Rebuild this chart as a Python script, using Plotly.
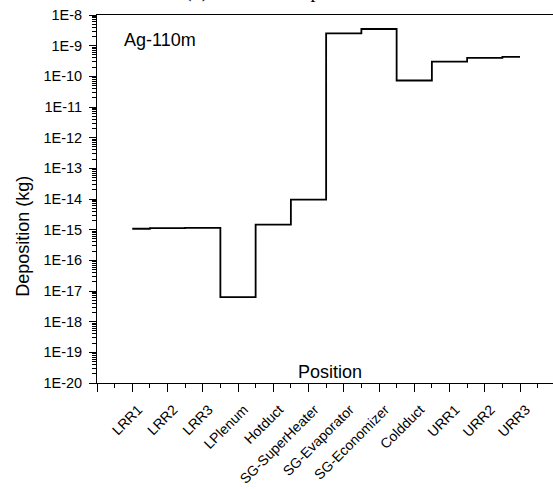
import plotly.graph_objects as go

categories = ["LRR1", "LRR2", "LRR3", "LPlenum", "Hotduct", "SG-SuperHeater",
              "SG-Evaporator", "SG-Economizer", "Coldduct", "URR1", "URR2", "URR3"]
deposition = [1.07e-15, 1.12e-15, 1.15e-15, 6.3e-18, 1.45e-15, 9.6e-15,
              2.5e-9, 3.5e-9, 7.3e-11, 3.0e-10, 4.0e-10, 4.3e-10]
y_tick_vals = [10.0 ** e for e in range(-20, -7)]
y_tick_text = ["1E%d" % e for e in range(-20, -7)]
y_minor_vals = [k * 10.0 ** e for e in range(-20, -8) for k in range(2, 10)]

xpos = list(range(1, len(categories) + 1))

W, H = 553, 489
L, T, B = 97, 15, 105.5
plot_w = W - L
unit = 35.25
x_end = plot_w / unit

fig = go.Figure()
fig.add_trace(go.Scatter(
    x=xpos, y=deposition, mode="lines", line_shape="hvh",
    line=dict(color="black", width=1.8), showlegend=False,
))

font = "Liberation Sans, Arial, sans-serif"
fig.update_layout(
    width=W, height=H,
    margin=dict(l=L, r=0, t=T, b=B, pad=0, autoexpand=False),
    paper_bgcolor="white", plot_bgcolor="white",
    font=dict(family=font, size=14, color="black"),
    xaxis=dict(
        range=[0, x_end], tickmode="array", automargin=False,
        tickvals=list(range(0, len(categories) + 1)),
        ticktext=[""] + categories,
        tickangle=-45, ticks="outside", ticklen=8, tickwidth=1, tickcolor="black",
        ticklabelshift=6, ticklabelstandoff=4,
        showline=True, linecolor="black", linewidth=1, mirror=True,
        showgrid=False, zeroline=False,
        tickfont=dict(size=14),
        minor=dict(tickmode="array", tickvals=[i + 0.5 for i in range(0, 13)],
                   ticks="outside", ticklen=4, tickcolor="black", showgrid=False),
    ),
    yaxis=dict(
        type="log", range=[-20, -8], tickmode="array", automargin=False,
        tickvals=y_tick_vals, ticktext=y_tick_text,
        ticks="outside", ticklen=7, tickwidth=1, tickcolor="black",
        ticklabelstandoff=4,
        showline=True, linecolor="black", linewidth=1,
        showgrid=False, zeroline=False,
        tickfont=dict(size=14.5),
        minor=dict(tickmode="array", tickvals=y_minor_vals,
                   ticks="outside", ticklen=4, tickcolor="black", showgrid=False),
    ),
)

def px_x(p):
    return (p - L) / plot_w

def px_y(p):
    return 1 - (p - T) / (H - T - B)

fig.add_annotation(text="Ag-110m", x=px_x(122), y=px_y(40), xref="paper", yref="paper",
                   xanchor="left", yanchor="middle", showarrow=False,
                   font=dict(size=18, family=font))
fig.add_annotation(text="Position", x=px_x(329.7), y=px_y(372.5), xref="paper", yref="paper",
                   xanchor="center", yanchor="middle", showarrow=False,
                   font=dict(size=18, family=font))
fig.add_annotation(text="Deposition (kg)", x=px_x(23), y=px_y(237), xref="paper", yref="paper",
                   xanchor="center", yanchor="middle", textangle=-90, showarrow=False,
                   font=dict(size=18, family=font))
fig.add_annotation(text="(b)   Nuclide deposition", x=px_x(183), y=px_y(4), xref="paper", yref="paper",
                   xanchor="left", yanchor="bottom", showarrow=False,
                   font=dict(size=20, family="Liberation Serif, Times New Roman, serif"))

fig.write_html("out.html", config={"displayModeBar": False},
               post_script="document.body.style.margin='0';document.body.style.overflow='hidden';")
